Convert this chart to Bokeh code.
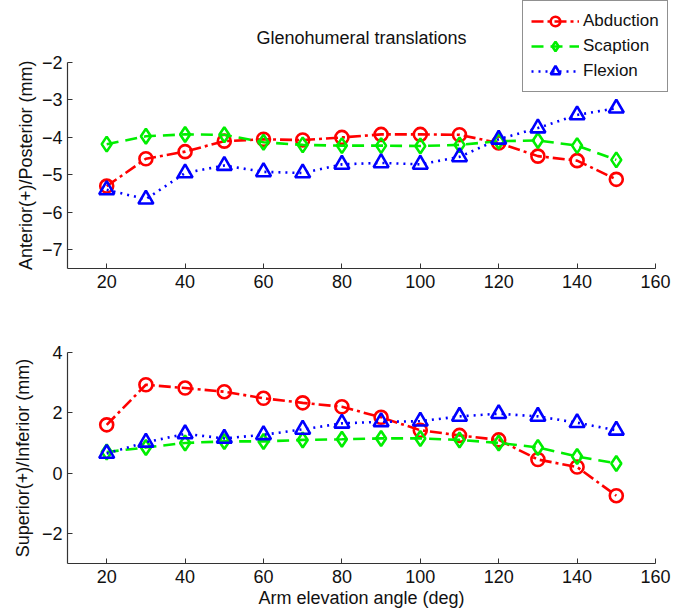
import math
from bokeh.plotting import figure
from bokeh.layouts import column
from bokeh.models import Legend, LegendItem, Title, FixedTicker, Label
from bokeh.embed import file_html
from bokeh.resources import INLINE

angles = [20, 30, 40, 50, 60, 70, 80, 90, 100, 110, 120, 130, 140, 150]

ap_abduction = [-5.30, -4.57, -4.38, -4.10, -4.05, -4.07, -4.00, -3.92, -3.92, -3.93, -4.15, -4.50, -4.62, -5.12]
ap_scaption = [-4.18, -3.97, -3.92, -3.93, -4.13, -4.20, -4.22, -4.22, -4.23, -4.20, -4.10, -4.08, -4.22, -4.60]
ap_flexion = [-5.40, -5.65, -4.95, -4.75, -4.92, -4.95, -4.72, -4.68, -4.72, -4.52, -4.05, -3.75, -3.40, -3.22]

si_abduction = [1.60, 2.93, 2.82, 2.70, 2.48, 2.33, 2.20, 1.85, 1.42, 1.25, 1.10, 0.45, 0.20, -0.75]
si_scaption = [0.70, 0.85, 1.00, 1.05, 1.05, 1.10, 1.12, 1.15, 1.15, 1.10, 1.00, 0.85, 0.55, 0.32]
si_flexion = [0.65, 1.02, 1.30, 1.15, 1.27, 1.45, 1.65, 1.70, 1.72, 1.88, 1.97, 1.88, 1.67, 1.42]

x_ticks = [20, 40, 60, 80, 100, 120, 140, 160]
top_yticks = [-7, -6, -5, -4, -3, -2]
bottom_yticks = [-2, 0, 2, 4]
x_lim = (10, 160)
top_ylim = (-7.5, -2)
bottom_ylim = (-3, 4)

series_names = ["Abduction", "Scaption", "Flexion"]
colors = ["#ff0000", "#00ee00", "#0000ff"]
dashes = ["12 4 3 4", "12 7", "2 5"]
markers = ["circle", "diamond", "triangle"]
msizes = [13, 15, 15]

FONT = "Liberation Sans"
FS = "18px"

# layout (pixels)
W = 683
LEFT = 67
AX_W = 588          # width of axes box (x 10..160)
TOP_AX_TOP = 62     # y pixel of -2 in top panel
TOP_AX_H = 206
TOP_H = 305
BOT_AX_H = 211


def minus(v):
    return str(v).replace("-", "\u2212")


def style(p, yticks, ylim):
    p.grid.visible = False
    p.outline_line_color = None
    p.background_fill_color = "white"
    p.border_fill_color = "white"
    p.xaxis.ticker = FixedTicker(ticks=x_ticks)
    p.yaxis.ticker = FixedTicker(ticks=yticks)
    p.xaxis.bounds = x_lim
    p.yaxis.bounds = ylim
    p.yaxis.major_label_overrides = {t: minus(t) for t in yticks}
    for ax in (p.xaxis[0], p.yaxis[0]):
        ax.axis_line_color = "#333333"
        ax.axis_line_width = 1.2
        ax.major_tick_in = 5
        ax.major_tick_out = 0
        ax.major_tick_line_color = "#333333"
        ax.minor_tick_line_color = None
        ax.major_label_text_font = FONT
        ax.major_label_text_font_size = FS
        ax.major_label_text_color = "#111111"
        ax.axis_label_text_font = FONT
        ax.axis_label_text_font_size = FS
        ax.axis_label_text_font_style = "normal"
        ax.axis_label_text_color = "#111111"
    p.xaxis.major_label_standoff = 6
    p.yaxis.major_label_standoff = 5


def draw(p, ys):
    items = []
    for name, y, c, d, m, s in zip(series_names, ys, colors, dashes, markers, msizes):
        r1 = p.line(angles, y, line_color=c, line_width=2.6, line_dash=d)
        r2 = p.scatter(angles, y, marker=m, size=s, line_color=c, line_width=2.6, fill_color=None)
        items.append(LegendItem(label=name, renderers=[r1, r2]))
    return items


# top panel: the frame reaches the top and right edges so the legend and title can sit there
x_scale = AX_W / (x_lim[1] - x_lim[0])
y_scale = TOP_AX_H / (top_ylim[1] - top_ylim[0])
top_frame_w = W - LEFT
top_frame_h = TOP_AX_TOP + TOP_AX_H
top_xr = (x_lim[0], x_lim[0] + top_frame_w / x_scale)
top_yr = (top_ylim[0], top_ylim[1] + TOP_AX_TOP / y_scale)

top = figure(width=W, height=TOP_H, frame_width=top_frame_w, frame_height=top_frame_h,
             x_range=top_xr, y_range=top_yr, title=None,
             min_border_left=LEFT, min_border_right=0, min_border_top=0,
             min_border_bottom=TOP_H - top_frame_h,
             output_backend="svg", toolbar_location=None)
style(top, top_yticks, top_ylim)
items = draw(top, [ap_abduction, ap_scaption, ap_flexion])
top.add_layout(Title(text="Anterior(+)/Posterior (mm)", align="right", offset=60,
                     text_font=FONT, text_font_size=FS, text_font_style="normal",
                     text_color="#111111", standoff=6), "left")
top.add_layout(Label(x=AX_W / 2, y=top_frame_h - 37, x_units="screen", y_units="screen",
                     text="Glenohumeral translations", text_align="center",
                     text_baseline="middle", text_font=FONT, text_font_size=FS,
                     text_color="#111111"))

legend = Legend(items=items, location=(455, top_frame_h - 92), orientation="vertical",
                glyph_width=48, glyph_height=24, label_text_font=FONT,
                label_text_font_size="17px", label_text_color="#111111",
                border_line_color="#222222", border_line_width=1.2,
                background_fill_color="white", background_fill_alpha=1.0,
                padding=8, spacing=1, margin=0, label_standoff=4)
top.add_layout(legend, "center")

bottom = figure(width=W, height=305, frame_width=AX_W, frame_height=BOT_AX_H,
                x_range=x_lim, y_range=bottom_ylim, title=None,
                min_border_left=LEFT, min_border_right=W - LEFT - AX_W,
                min_border_top=47, min_border_bottom=305 - 47 - BOT_AX_H,
                output_backend="svg", toolbar_location=None)
bottom.yaxis.axis_label = "Superior(+)/Inferior (mm)"
bottom.xaxis.axis_label = "Arm elevation angle (deg)"
style(bottom, bottom_yticks, bottom_ylim)
draw(bottom, [si_abduction, si_scaption, si_flexion])
bottom.xaxis.axis_label_standoff = 2
bottom.yaxis.axis_label_standoff = 6

layout = column(top, bottom, spacing=0)
open("out.html", "w").write(file_html(layout, INLINE))
